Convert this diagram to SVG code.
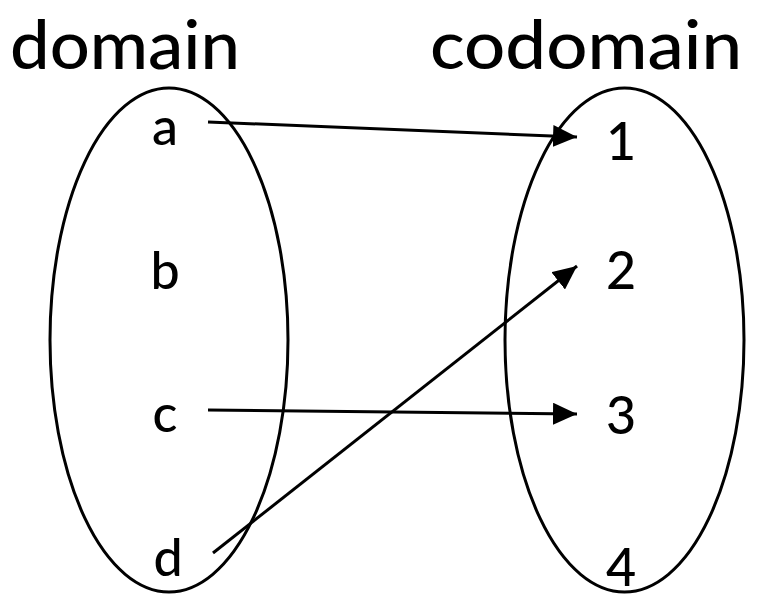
<svg xmlns="http://www.w3.org/2000/svg" width="762" height="602" viewBox="0 0 762 602">
<style>
.title{font-family:"Lato","Open Sans",sans-serif;font-size:68px;font-weight:500;fill:#000}
.lbl{font-family:"Lato","Open Sans",sans-serif;font-size:52px;font-weight:500;fill:#000;text-anchor:middle}
.set{fill:none;stroke:#000;stroke-width:3}
.edge{fill:none;stroke:#000;stroke-width:3;marker-end:url(#ah)}
</style>
<defs>
<marker id="ah" markerUnits="userSpaceOnUse" viewBox="0 0 24 22" refX="24" refY="11" markerWidth="24" markerHeight="22" orient="auto">
<path d="M0,0 L24,11 L0,22 Z" fill="#000"/>
</marker>
</defs>
<rect width="762" height="602" fill="#fff"/>
<g id="domain">
<text class="title" x="10" y="69" textLength="230" lengthAdjust="spacingAndGlyphs">domain</text>
<ellipse class="set" cx="169" cy="340" rx="119" ry="252"/>
<text class="lbl" x="165" y="145">a</text>
<text class="lbl" x="165" y="289">b</text>
<text class="lbl" x="165" y="432">c</text>
<text class="lbl" x="168" y="576">d</text>
</g>
<g id="codomain">
<text class="title" x="430" y="69" textLength="312" lengthAdjust="spacingAndGlyphs">codomain</text>
<ellipse class="set" cx="624.5" cy="340" rx="119.5" ry="252"/>
<text class="lbl" x="621" y="160">1</text>
<text class="lbl" x="621" y="289">2</text>
<text class="lbl" x="621" y="434">3</text>
<text class="lbl" x="621" y="586">4</text>
</g>
<g id="connectors">
<line class="edge" x1="208" y1="122" x2="577" y2="137"/>
<line class="edge" x1="208" y1="410" x2="577" y2="414"/>
<line class="edge" x1="213" y1="553" x2="577" y2="266"/>
</g>
</svg>
